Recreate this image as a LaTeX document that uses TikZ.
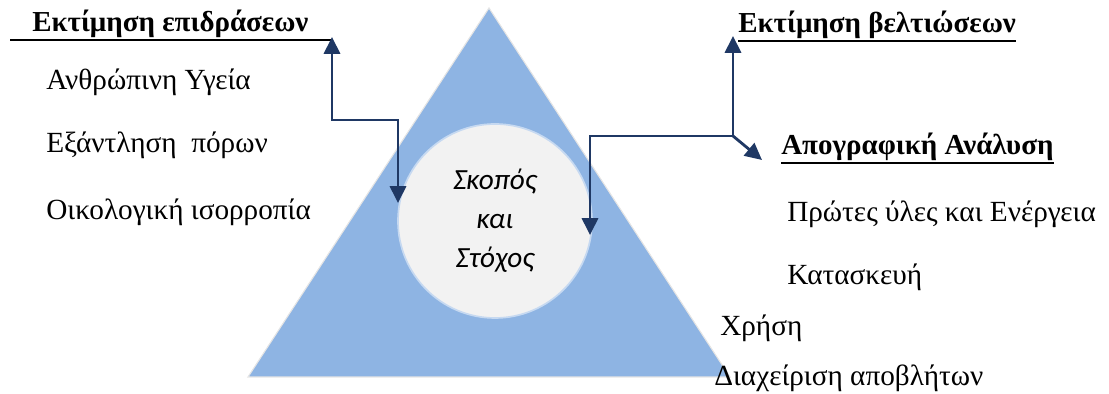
\documentclass[tikz,border=0pt]{standalone}
\usepackage{fontspec}
\setmainfont{Liberation Serif}
\newfontfamily\calibri{Carlito}
\usetikzlibrary{arrows.meta}
\definecolor{trblue}{HTML}{8EB4E3}
\definecolor{crgray}{HTML}{F2F2F2}
\definecolor{crrim}{HTML}{C6D9F1}
\definecolor{dknavy}{HTML}{1F3864}

\begin{document}
\begin{tikzpicture}[
    >={Triangle[length=12pt, width=11.5pt]},
    every node/.style={text=black, inner sep=0pt},
    item/.style={anchor=base west, font=\fontsize{20.8}{24}\selectfont},
    head/.style={anchor=base west, font=\fontsize{20.6}{24}\selectfont\bfseries},
    uline/.style={black, line width=1.4pt},
    flow/.style={dknavy, line width=2pt},
  ]

  % ══════════════════════════════════════════════════════
  % Page frame
  % ══════════════════════════════════════════════════════
  \useasboundingbox (0,0) rectangle (27.725,9.85);

  % ══════════════════════════════════════════════════════
  % Triangle and central circle
  % ══════════════════════════════════════════════════════
  \coordinate (T1) at (12.225, 9.65);
  \coordinate (T2) at (6.2, 0.425);
  \coordinate (T3) at (18.25, 0.425);

  \fill[trblue] (T1) -- (T2) -- (T3) -- cycle;
  \draw[white!90!black, line width=0.8pt] (T1) -- (T2) -- (T3) -- cycle;

  \node[circle, fill=crgray, draw=crrim, line width=1.2pt,
        minimum size=4.85cm, align=center,
        font=\fontsize{20.8}{27.7}\selectfont\calibri\itshape]
    (goal) at (12.375, 4.325) {Σκοπός\\και\\Στόχος};

  % ══════════════════════════════════════════════════════
  % Left column: impact assessment
  % ══════════════════════════════════════════════════════
  \node[head] (impact) at (0.8, 9.05) {Εκτίμηση επιδράσεων};
  \coordinate (impL) at (0.25, 8.85);
  \coordinate (impR) at (8.3, 8.85);
  \draw[uline] (impL) -- (impR);

  \node[item] (health) at (1.15, 7.6) {Ανθρώπινη Υγεία};
  \node[item] (deplet) at (1.15, 6.025) {Εξάντληση\ \ πόρων};
  \node[item] (ecobal) at (1.15, 4.35) {Οικολογική ισορροπία};

  % ══════════════════════════════════════════════════════
  % Right column: improvement and inventory
  % ══════════════════════════════════════════════════════
  \node[head] (improve) at (18.45, 9.025) {Εκτίμηση βελτιώσεων};
  \draw[uline] ([yshift=-0.2cm]improve.base west)
    -- ([yshift=-0.2cm]improve.base east);

  \node[head] (invent) at (19.525, 5.975) {Απογραφική Ανάλυση};
  \draw[uline] ([yshift=-0.2cm]invent.base west)
    -- ([yshift=-0.2cm]invent.base east);

  \node[item] (raw)   at (19.675, 4.3)   {Πρώτες ύλες και Ενέργεια};
  \node[item] (build) at (19.675, 2.725) {Κατασκευή};
  \node[item] (use)   at (18.0, 1.45)    {Χρήση};
  \node[item] (waste) at (17.85, 0.2)    {Διαχείριση αποβλήτων};

  % ══════════════════════════════════════════════════════
  % Connectors
  % ══════════════════════════════════════════════════════
  % left: circle <-> impact assessment
  \coordinate (lTop) at (8.3, 8.925);
  \coordinate (lBot) at (9.95, 4.775);
  \draw[flow, <->] (lTop) |- (9.95, 6.85) -- (lBot);

  % right: circle <-> improvement / inventory
  \coordinate (rBot)  at (14.75, 3.975);
  \coordinate (rJoin) at (18.325, 6.45);
  \coordinate (rTop)  at (18.325, 8.95);
  \coordinate (rDiag) at (19.05, 5.85);
  \draw[flow, ->] (rJoin) -- (14.75, 6.45) -- (rBot);
  \draw[flow, ->] (rJoin) -- (rTop);
  \draw[flow, ->] (rJoin) -- (rDiag);

\end{tikzpicture}
\end{document}
